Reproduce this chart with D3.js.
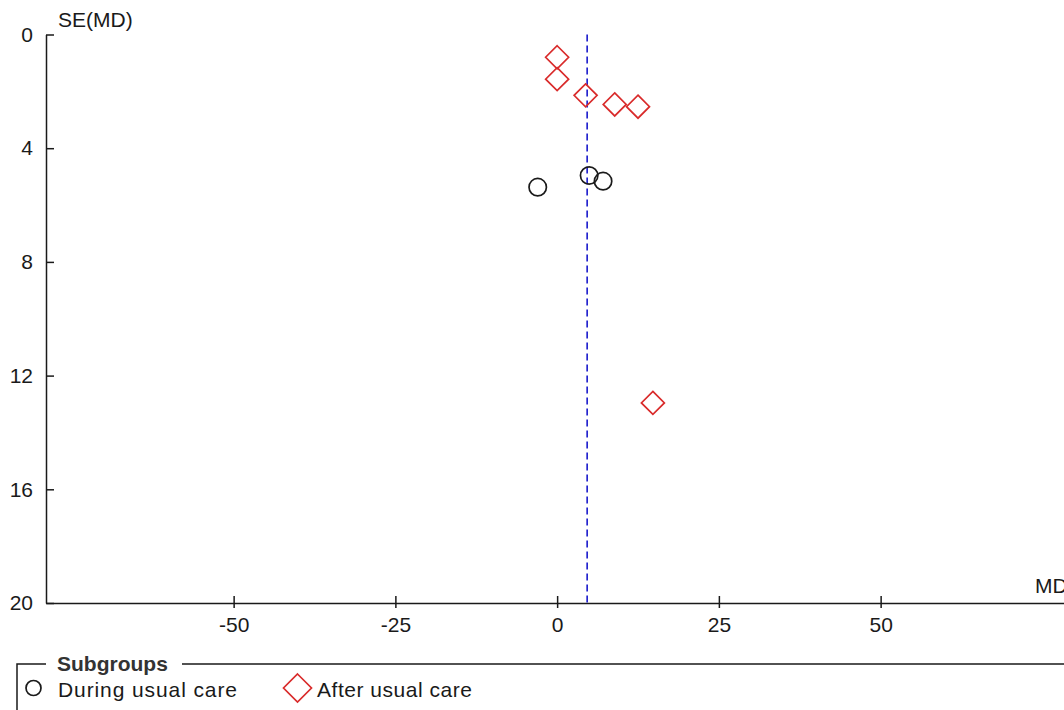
<!DOCTYPE html>
<html>
<head>
<meta charset="utf-8">
<script src="https://cdn.jsdelivr.net/npm/d3@7"></script>
<style>
  body { margin: 0; background: #fff; }
  text { font-family: "Liberation Sans", Arial, sans-serif; }
</style>
</head>
<body>
<div id="funnel"></div>
<script>
// funnel plot data
const duringMD = [-3.0, 4.95, 7.1];
const duringSE = [5.37, 4.96, 5.16];
const afterMD = [0.0, 0.0, 4.4, 8.9, 12.5, 14.8];
const afterSE = [0.80, 1.57, 2.14, 2.46, 2.54, 12.96];
const pooledMD = 4.64;
const xTicks = [-50, -25, 0, 25, 50];
const yTicks = [0, 4, 8, 12, 16, 20];
const groupNames = ["During usual care", "After usual care"];

const W = 1064, H = 710;
const red = "#d92b2b", dark = "#1a1a1a";

let svg = d3.select("#funnel").append("svg")
    .attr("width", W)
    .attr("height", H);

let x = d3.scaleLinear().domain([-79, 80]).range([46, 46 + 159 * 6.47]);
let y = d3.scaleLinear().domain([0, 20]).range([34.5, 603]);

// x axis (plain hyphen for negatives, like the original)
let gx = svg.append("g")
    .attr("transform", "translate(0," + y(20) + ")")
    .call(d3.axisBottom(x).tickValues(xTicks).tickFormat(d => String(d))
        .tickSize(5).tickSizeOuter(0).tickPadding(9));
gx.select(".domain").attr("stroke", dark).attr("stroke-width", 1.5);
gx.selectAll(".tick line").attr("y1", -7).attr("stroke", dark).attr("stroke-width", 1.5);
gx.selectAll(".tick text").attr("font-size", 21).attr("fill", dark).attr("font-family", "Liberation Sans");

// y axis
let gy = svg.append("g")
    .attr("transform", "translate(" + x(-79) + ",0)")
    .call(d3.axisLeft(y).tickValues(yTicks).tickFormat(d => String(d))
        .tickSize(8).tickSizeOuter(0).tickPadding(5));
gy.select(".domain").attr("stroke", dark).attr("stroke-width", 1.5);
gy.selectAll(".tick line").attr("x2", 8).attr("stroke", dark).attr("stroke-width", 1.5);
gy.selectAll(".tick text").attr("font-size", 21).attr("fill", dark).attr("font-family", "Liberation Sans");

svg.append("text")
    .attr("x", 58).attr("y", 27)
    .attr("font-size", 21).attr("fill", dark)
    .text("SE(MD)");

svg.append("text")
    .attr("x", 1035).attr("y", 593)
    .attr("font-size", 21).attr("fill", dark)
    .text("MD");

// pooled estimate
svg.append("line")
    .attr("x1", x(pooledMD)).attr("x2", x(pooledMD))
    .attr("y1", y(0)).attr("y2", y(20))
    .attr("stroke", "#1a1acc")
    .attr("stroke-width", 1.6)
    .attr("stroke-dasharray", "7,4");

// points
let diamond = s => "M0," + (-s) + "L" + s + ",0L0," + s + "L" + (-s) + ",0Z";

svg.selectAll(".after")
    .data(afterMD)
    .enter().append("path")
    .attr("class", "after")
    .attr("d", diamond(11.5))
    .attr("transform", (d, i) => "translate(" + x(d) + "," + y(afterSE[i]) + ")")
    .attr("fill", "none")
    .attr("stroke", red)
    .attr("stroke-width", 1.7);

svg.selectAll(".during")
    .data(duringMD)
    .enter().append("circle")
    .attr("class", "during")
    .attr("cx", d => x(d))
    .attr("cy", (d, i) => y(duringSE[i]))
    .attr("r", 8.7)
    .attr("fill", "none")
    .attr("stroke", dark)
    .attr("stroke-width", 1.7);

// legend
let lg = svg.append("g");
lg.append("path")
    .attr("d", "M17,715V664H46M182,664H1070")
    .attr("fill", "none")
    .attr("stroke", dark)
    .attr("stroke-width", 1.5);
lg.append("text")
    .attr("x", 57).attr("y", 671)
    .attr("font-size", 21).attr("font-weight", "bold").attr("fill", "#333")
    .text("Subgroups");
lg.append("circle")
    .attr("cx", 33.5).attr("cy", 688)
    .attr("r", 7.5)
    .attr("fill", "none").attr("stroke", dark).attr("stroke-width", 1.7);
lg.append("text")
    .attr("x", 58).attr("y", 697)
    .attr("font-size", 21).attr("fill", dark)
    .attr("textLength", 179).attr("lengthAdjust", "spacing")
    .text(groupNames[0]);
lg.append("path")
    .attr("d", diamond(14))
    .attr("transform", "translate(297.5,688)")
    .attr("fill", "none").attr("stroke", red).attr("stroke-width", 1.7);
lg.append("text")
    .attr("x", 317).attr("y", 697)
    .attr("font-size", 21).attr("fill", dark)
    .attr("textLength", 155).attr("lengthAdjust", "spacing")
    .text(groupNames[1]);
</script>
</body>
</html>
